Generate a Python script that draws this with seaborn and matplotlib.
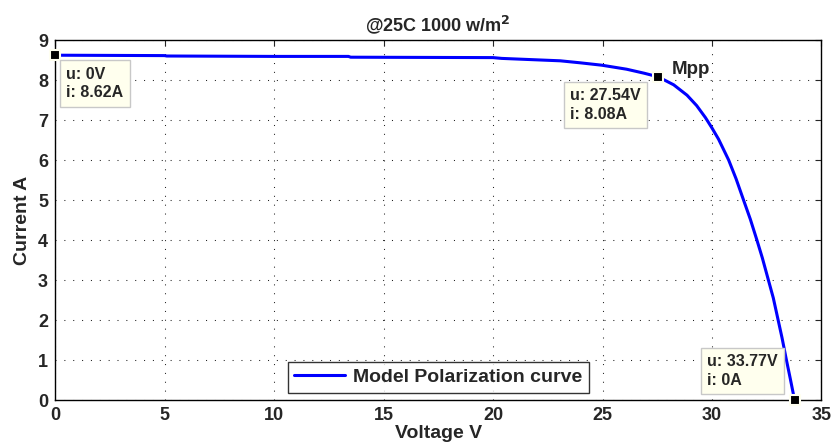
import matplotlib
matplotlib.use('Agg')
import matplotlib.pyplot as plt
import pandas as pd
import seaborn as sns

# IV curve points
voltage = [0, 5, 5.1, 10, 13.4, 13.5, 20, 20.4, 23.07, 23.98, 24.97, 26.1, 26.9, 27.54,
           28.25, 28.86, 29.3, 29.7, 30.0, 30.3, 30.76, 31.1, 31.44, 31.75, 32.05,
           32.3, 32.55, 32.8, 33.0, 33.2, 33.38, 33.58, 33.77]
current = [8.62, 8.61, 8.60, 8.59, 8.59, 8.57, 8.56, 8.54, 8.48, 8.43, 8.37, 8.27, 8.17, 8.08,
           7.88, 7.62, 7.36, 7.06, 6.80, 6.52, 6.0, 5.53, 5.0, 4.52, 4.0,
           3.55, 3.05, 2.55, 2.05, 1.55, 1.05, 0.52, 0.0]

# data tips: (u, i)
tip_u = [0, 27.54, 33.77]
tip_i = [8.62, 8.08, 0]
tip_text = ['u: 0V\ni: 8.62A', 'u: 27.54V\ni: 8.08A', 'u: 33.77V\ni: 0A']

df = pd.DataFrame({'Voltage V': voltage, 'Current A': current})

sns.set_style('white')
plt.rcParams['font.family'] = ['Liberation Sans', 'DejaVu Sans']
plt.rcParams['font.weight'] = 'bold'

fig, ax = plt.subplots(figsize=(8.34, 4.47), dpi=100)
fig.subplots_adjust(left=0.066, right=0.985, top=0.9105, bottom=0.1051)

sns.lineplot(data=df, x='Voltage V', y='Current A', color='#0000ff', linewidth=2.2,
             ax=ax, label='Model Polarization curve', sort=False)

ax.set_xlim(0, 35)
ax.set_ylim(0, 9)
ax.set_xticks(range(0, 36, 5))
ax.set_yticks(range(0, 10))
ax.grid(True, linestyle=(0, (1, 7.5)), color='#222222', linewidth=0.75)
ax.tick_params(direction='in', length=4, width=0.8, top=True, right=True,
               labelsize=13, pad=5)
for t in ax.get_xticklabels() + ax.get_yticklabels():
    t.set_fontweight('bold')
for s in ax.spines.values():
    s.set_color('black')
    s.set_linewidth(1)

ax.set_xlabel('Voltage V', fontsize=14, fontweight='bold', labelpad=1)
ax.set_ylabel('Current A', fontsize=14, fontweight='bold', labelpad=5)
ax.set_title('@25C 1000 w/m$^\\mathbf{2}$', fontsize=13, fontweight='bold', pad=6)

# markers
ax.scatter(tip_u, tip_i, marker='s', s=45, color='black', edgecolor='#fffff0',
           linewidth=1.5, zorder=5, clip_on=False)

box = dict(boxstyle='square,pad=0.4', facecolor='#ffffee', edgecolor='#c8c8c8', linewidth=1)
offsets = [(8.2, -8.2), (-63.4, -8.2), (-62.8, 8.9)]
valign = ['top', 'top', 'bottom']
for u, i, txt, off, va in zip(tip_u, tip_i, tip_text, offsets, valign):
    ax.annotate(txt, xy=(u, i), xytext=off, textcoords='offset points',
                fontsize=11.5, fontweight='bold', ha='left', va=va, bbox=box,
                linespacing=1.3, zorder=6, annotation_clip=False)

ax.annotate('Mpp', xy=(27.54, 8.08), xytext=(10, 2), textcoords='offset points',
            fontsize=13.5, fontweight='bold', ha='left', va='baseline')

leg = ax.legend(loc='lower center', bbox_to_anchor=(0.5, 0), frameon=True,
                fancybox=False, edgecolor='black', fontsize=14, handlelength=2.6,
                handletextpad=0.4, borderpad=0.35, borderaxespad=0.36)
leg.get_frame().set_linewidth(1)
for t in leg.get_texts():
    t.set_fontweight('bold')

fig.savefig('out.png', dpi=100)
